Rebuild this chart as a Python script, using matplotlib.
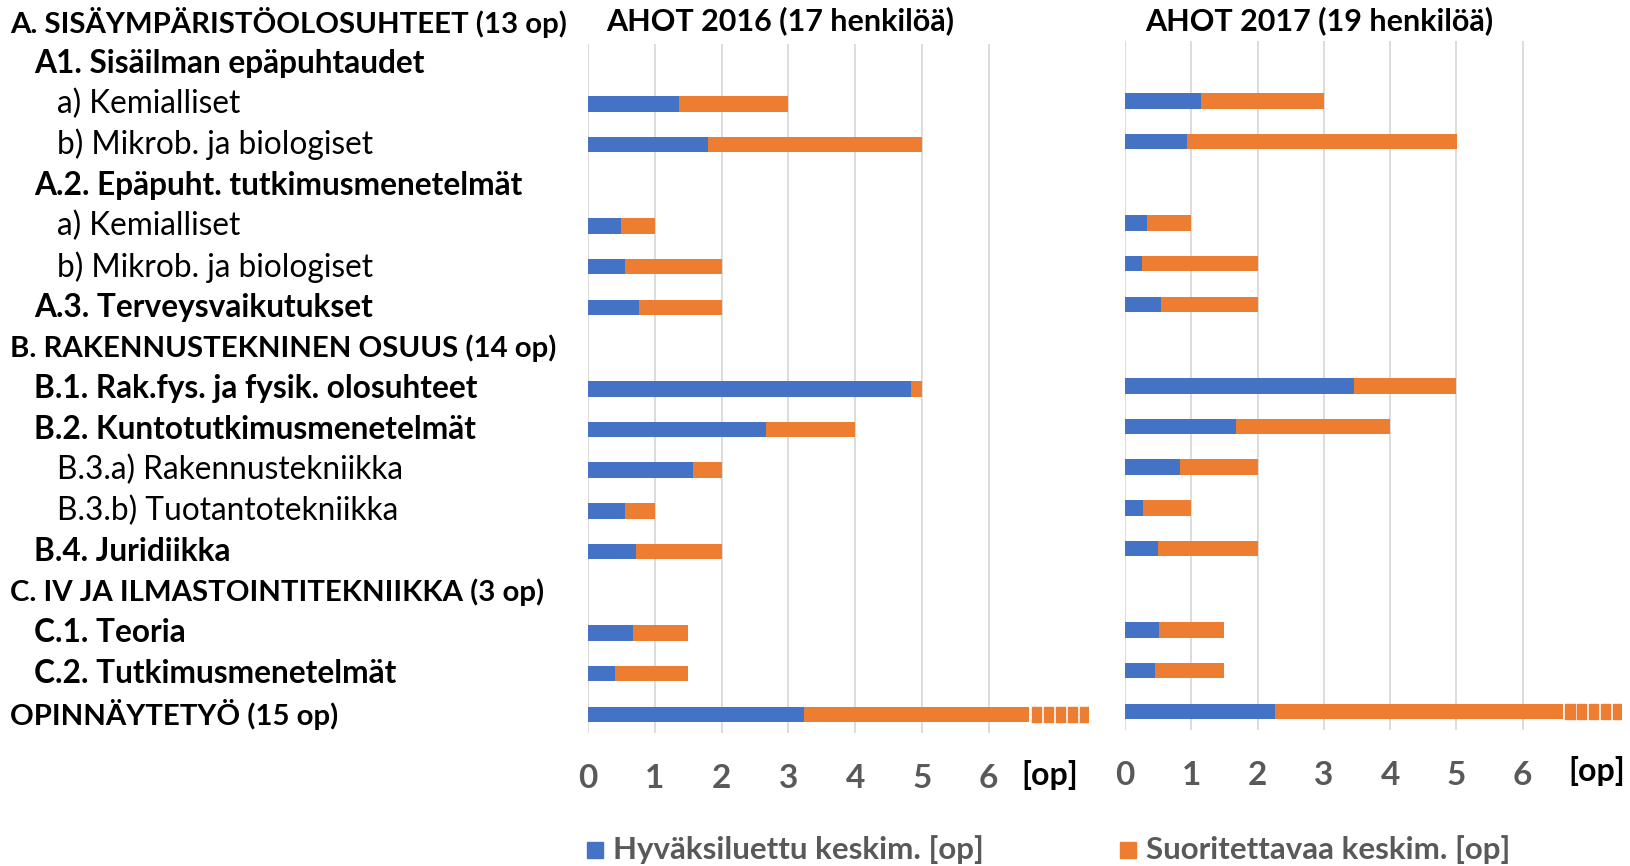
import matplotlib
matplotlib.use("Agg")
import matplotlib.pyplot as plt
from matplotlib.patches import Rectangle
from matplotlib.transforms import blended_transform_factory

plt.rcParams["font.family"] = ["Lato", "DejaVu Sans"]

# ---------------------------------------------------------
# data
# ---------------------------------------------------------
labels = [
    "A. SISÄYMPÄRISTÖOLOSUHTEET (13 op)",
    "A1. Sisäilman epäpuhtaudet",
    "a) Kemialliset",
    "b) Mikrob. ja biologiset",
    "A.2. Epäpuht. tutkimusmenetelmät",
    "a) Kemialliset",
    "b) Mikrob. ja biologiset",
    "A.3. Terveysvaikutukset",
    "B. RAKENNUSTEKNINEN OSUUS (14 op)",
    "B.1. Rak.fys. ja fysik. olosuhteet",
    "B.2. Kuntotutkimusmenetelmät",
    "B.3.a) Rakennustekniikka",
    "B.3.b) Tuotantotekniikka",
    "B.4. Juridiikka",
    "C. IV JA ILMASTOINTITEKNIIKKA (3 op)",
    "C.1. Teoria",
    "C.2. Tutkimusmenetelmät",
    "OPINNÄYTETYÖ (15 op)",
]
# 0 = main heading, 1 = sub heading (bold), 2 = item (normal)
levels = [0, 1, 2, 2, 1, 2, 2, 1, 0, 1, 1, 2, 2, 1, 0, 1, 1, 0]

# rows that carry a bar (index into labels)
bar_rows = [2, 3, 5, 6, 7, 9, 10, 11, 12, 13, 15, 16, 17]
total_op = [3, 5, 1, 2, 2, 5, 4, 2, 1, 2, 1.5, 1.5, 15]

hyv_2016 = [1.36, 1.79, 0.50, 0.56, 0.76, 4.84, 2.66, 1.57, 0.56, 0.72, 0.67, 0.40, 3.23]
hyv_2017 = [1.15, 0.93, 0.33, 0.25, 0.55, 3.45, 1.68, 0.83, 0.27, 0.50, 0.52, 0.45, 2.26]

titles = ["AHOT 2016 (17 henkilöä)", "AHOT 2017 (19 henkilöä)"]
legend_labels = ["Hyväksiluettu keskim. [op]", "Suoritettavaa keskim. [op]"]
ticks = [0, 1, 2, 3, 4, 5, 6]

BLUE = "#4472C4"
ORANGE = "#ED7D31"
GREY = "#595959"
GRID = "#D9D9D9"

AX_MAX = 7.5
BREAK_AT = 6.6      # long bars are cut here and shown with a dashed tail
N_DASH = 5

# ---------------------------------------------------------
# figure
# ---------------------------------------------------------
W, H = 1631, 866
fig = plt.figure(figsize=(W / 100, H / 100), dpi=100)

row0, row_step = 22.5, 40.7   # pixel centre of first row, row pitch
ax_top, ax_bot = 44, 733
ylim = ((ax_bot - row0) / row_step, (ax_top - row0) / row_step)


def make_axes(x0_px, unit_px, dy=0):
    ax = fig.add_axes([x0_px / W, 1 - (ax_bot - dy) / H,
                       AX_MAX * unit_px / W, (ax_bot - ax_top) / H])
    ax.set_xlim(0, AX_MAX)
    ax.set_ylim(*ylim)
    for s in ax.spines.values():
        s.set_visible(False)
    ax.set_xticks(ticks)
    ax.set_xticklabels([str(t) for t in ticks], fontsize=24,
                       fontweight="bold", color=GREY)
    ax.tick_params(axis="x", length=0, pad=22)
    ax.set_yticks([])
    ax.grid(axis="x", color=GRID, linewidth=1.3)
    ax.set_axisbelow(True)
    return ax


def draw_panel(ax, hyv):
    for r, tot, h in zip(bar_rows, total_op, hyv):
        shown = min(tot, BREAK_AT)
        ax.barh(r, h, height=0.38, color=BLUE)
        ax.barh(r, shown - h, left=h, height=0.38, color=ORANGE)
        if tot > BREAK_AT:
            step = (AX_MAX - BREAK_AT) / N_DASH
            segs = [(BREAK_AT + 0.04 + i * step, step - 0.04) for i in range(N_DASH)]
            ax.broken_barh(segs, (r - 0.19, 0.38), color=ORANGE)


ax1 = make_axes(588, 66.8)
ax2 = make_axes(1125, 66.3, dy=3)
draw_panel(ax1, hyv_2016)
draw_panel(ax2, hyv_2017)

# row labels
trans = blended_transform_factory(fig.transFigure, ax1.transData)
indent = {0: 10, 1: 34, 2: 57}
size = {0: 21.2, 1: 22.8, 2: 22.8}
for r, (txt, lv) in enumerate(zip(labels, levels)):
    fig.text(indent[lv] / W, r, txt, transform=trans, va="center", ha="left",
             fontsize=size[lv], fontweight="normal" if lv == 2 else "bold",
             color="black")

# panel titles
for x_px, t in zip([606, 1145], titles):
    fig.text(x_px / W, 1 - 21 / H, t, va="center", ha="left",
             fontsize=22, fontweight="bold")

# unit labels
fig.text(1050 / W, 1 - 775 / H, "[op]", ha="center", va="center",
         fontsize=23, fontweight="bold")
fig.text(1597 / W, 1 - 771 / H, "[op]", ha="center", va="center",
         fontsize=23, fontweight="bold")

# legend
for x_px, col, t in zip([587, 1120], [BLUE, ORANGE], legend_labels):
    fig.patches.append(Rectangle((x_px / W, 1 - 858 / H), 16 / W, 16 / H,
                                 transform=fig.transFigure, color=col))
    fig.text((x_px + 26) / W, 1 - 850 / H, t, va="center", ha="left",
             fontsize=22.5, fontweight="bold", color=GREY)

fig.savefig("out.png", dpi=100)
